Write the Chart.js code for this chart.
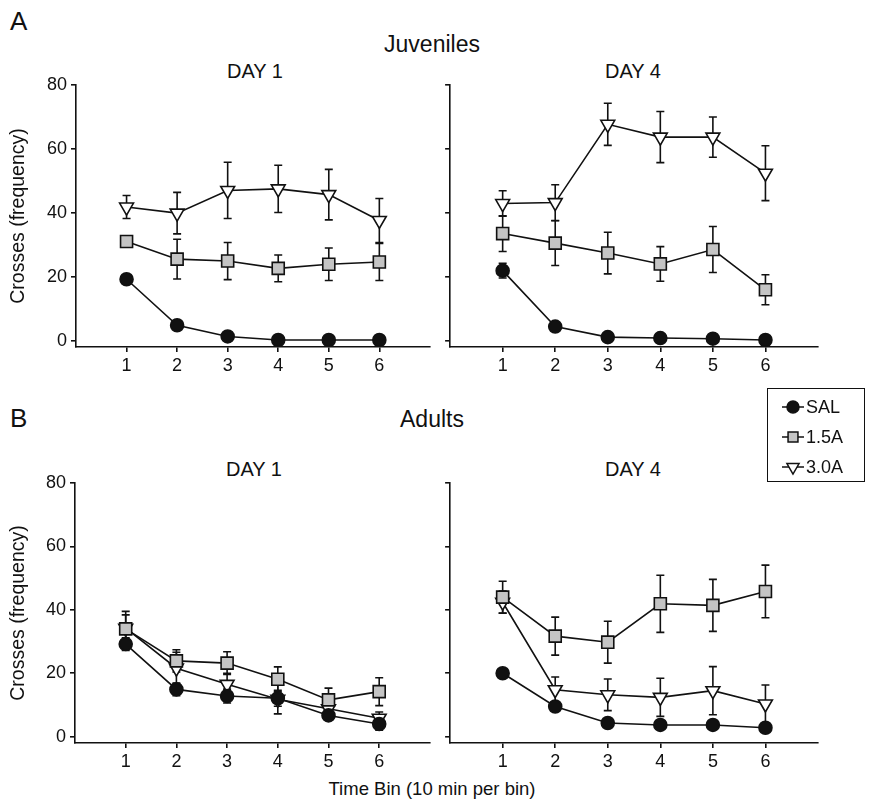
<!DOCTYPE html>
<html>
<head>
<meta charset="utf-8">
<script src="https://cdn.jsdelivr.net/npm/chart.js@4"></script>
<style>
    body { margin: 0; background: #fff; width: 869px; height: 806px; position: relative; overflow: hidden; }
    canvas { position: absolute; }
    .txt { position: absolute; font-family: "Liberation Sans", Arial, sans-serif; color: #111; line-height: 1; white-space: nowrap; }
    #legend { position: absolute; left: 767px; top: 388px; width: 98px; height: 94px; border: 1.5px solid #111; box-sizing: border-box; }
</style>
</head>
<body>
<div class="txt" style="left:10px; top:8px; font-size:26px;">A</div>
<div class="txt" style="left:0; width:864px; text-align:center; top:33px; font-size:23px;">Juveniles</div>
<div class="txt" style="left:155px; width:200px; text-align:center; top:61px; font-size:20px;">DAY 1</div>
<div class="txt" style="left:533px; width:200px; text-align:center; top:61px; font-size:20px;">DAY 4</div>

<div class="txt" style="left:10px; top:405px; font-size:26px;">B</div>
<div class="txt" style="left:0; width:864px; text-align:center; top:408px; font-size:23px;">Adults</div>
<div class="txt" style="left:154px; width:200px; text-align:center; top:459px; font-size:20px;">DAY 1</div>
<div class="txt" style="left:533px; width:200px; text-align:center; top:459px; font-size:20px;">DAY 4</div>
<div class="txt" style="left:0; width:864px; text-align:center; top:780px; font-size:18.5px;">Time Bin (10 min per bin)</div>

<canvas id="juvDay1" width="440" height="310" style="left:0; top:70px;"></canvas>
<canvas id="juvDay4" width="420" height="310" style="left:440px; top:70px;"></canvas>
<canvas id="adDay1" width="440" height="310" style="left:0; top:468px;"></canvas>
<canvas id="adDay4" width="420" height="310" style="left:440px; top:468px;"></canvas>

<div id="legend"></div>

<script>
const bins = [1, 2, 3, 4, 5, 6];
const yTicks = [0, 20, 40, 60, 80];
const groups = ['SAL', '1.5A', '3.0A'];

// Juveniles, day 1
const juvDay1Sal = [19.2, 4.8, 1.3, 0.2, 0.2, 0.2];
const juvDay1SalErr = [1.0, 0.8, 0.5, 0.2, 0.2, 0.2];
const juvDay1Low = [31.0, 25.5, 24.9, 22.6, 23.9, 24.6];
const juvDay1LowErr = [1.5, 6.2, 5.8, 4.2, 5.1, 5.8];
const juvDay1High = [41.8, 39.9, 47.0, 47.5, 45.7, 37.6];
const juvDay1HighErr = [3.6, 6.5, 8.8, 7.4, 7.9, 6.9];

// Juveniles, day 4
const juvDay4Sal = [21.9, 4.4, 1.1, 0.8, 0.6, 0.2];
const juvDay4SalErr = [2.3, 0.8, 0.5, 0.4, 0.3, 0.2];
const juvDay4Low = [33.5, 30.5, 27.4, 24.0, 28.5, 15.9];
const juvDay4LowErr = [5.6, 7.0, 6.5, 5.4, 7.2, 4.7];
const juvDay4High = [42.9, 43.2, 67.7, 63.7, 63.7, 52.4];
const juvDay4HighErr = [4.0, 5.6, 6.6, 8.0, 6.3, 8.6];

// Adults, day 1
const adDay1Sal = [29.2, 14.9, 12.8, 12.1, 6.7, 4.0];
const adDay1SalErr = [2.0, 2.0, 2.2, 2.5, 1.5, 2.0];
const adDay1Low = [34.0, 23.9, 23.2, 18.1, 11.6, 14.2];
const adDay1LowErr = [5.5, 3.5, 3.6, 3.9, 3.7, 4.4];
const adDay1High = [34.2, 21.6, 16.5, 11.8, 8.8, 5.8];
const adDay1HighErr = [4.2, 5.0, 3.5, 4.6, 2.0, 2.0];

// Adults, day 4
const adDay4Sal = [20.0, 9.5, 4.3, 3.7, 3.7, 2.8];
const adDay4SalErr = [1.0, 1.0, 0.8, 0.8, 0.8, 0.8];
const adDay4Low = [44.0, 31.7, 29.8, 41.9, 41.4, 45.8];
const adDay4LowErr = [5.0, 6.0, 6.6, 9.0, 8.2, 8.3];
const adDay4High = [42.4, 14.8, 13.2, 12.4, 14.5, 10.3];
const adDay4HighErr = [3.5, 4.0, 5.0, 6.0, 7.6, 6.0];

const FONT = '"Liberation Sans", Arial, sans-serif';
const INK = '#111';

const markers = {
    'SAL': {pointStyle: 'circle', pointRadius: 6.5, pointRotation: 0, pointBackgroundColor: INK},
    '1.5A': {pointStyle: 'rect', pointRadius: 8.5, pointRotation: 0, pointBackgroundColor: '#c4c4c4'},
    '3.0A': {pointStyle: 'triangle', pointRadius: 8, pointRotation: 180, pointBackgroundColor: '#fff'},
};

// draws the SEM whiskers under the lines and markers
const errorBars = {
    id: 'errorBars',
    beforeDatasetsDraw(chart) {
        const {ctx, scales: {x, y}} = chart;
        ctx.save();
        ctx.strokeStyle = INK;
        ctx.lineWidth = 1.6;
        chart.data.datasets.forEach(ds => {
            ds.data.forEach((pt, i) => {
                const err = ds.errors[i];
                const px = x.getPixelForValue(pt.x);
                const top = y.getPixelForValue(pt.y + err);
                const bot = y.getPixelForValue(pt.y - err);
                ctx.beginPath();
                ctx.moveTo(px, top);
                ctx.lineTo(px, bot);
                ctx.moveTo(px - 4, top);
                ctx.lineTo(px + 4, top);
                ctx.moveTo(px - 4, bot);
                ctx.lineTo(px + 4, bot);
                ctx.stroke();
            });
        });
        ctx.restore();
    }
};

function series(label, values, errors) {
    return Object.assign({
        label,
        data: values.map((v, i) => ({x: bins[i], y: v})),
        errors,
        borderColor: INK,
        borderWidth: 1.6,
        pointBorderColor: INK,
        pointBorderWidth: 1.6,
        tension: 0,
        fill: false,
    }, markers[label]);
}

function initPanel(id, sets, yWidth, showLabels, padding, xHeight) {
    const axisLine = {color: INK, width: 1.6};
    return new Chart(document.getElementById(id), {
        type: 'line',
        data: {
            datasets: [
                series('SAL', sets[0], sets[1]),
                series('1.5A', sets[2], sets[3]),
                series('3.0A', sets[4], sets[5]),
            ]
        },
        options: {
            responsive: false,
            animation: false,
            layout: {padding},
            plugins: {legend: {display: false}, tooltip: {enabled: false}},
            scales: {
                x: {
                    type: 'linear',
                    min: 0,
                    max: 7,
                    afterBuildTicks: scale => { scale.ticks = bins.map(value => ({value})); },
                    afterFit: scale => { scale.height = xHeight; },
                    border: axisLine,
                    grid: {drawOnChartArea: false, color: INK, lineWidth: 1.6, tickLength: 5},
                    ticks: {color: INK, font: {family: FONT, size: 18}, padding: 3},
                },
                y: {
                    min: -2,
                    max: 80,
                    afterBuildTicks: scale => { scale.ticks = yTicks.map(value => ({value})); },
                    afterFit: scale => { scale.width = yWidth; },
                    border: axisLine,
                    grid: {drawOnChartArea: false, color: INK, lineWidth: 1.6, tickLength: 5},
                    ticks: {display: showLabels, color: INK, font: {family: FONT, size: 18}, padding: 4},
                    title: {
                        display: showLabels,
                        text: 'Crosses (frequency)',
                        color: INK,
                        font: {family: FONT, size: 19.5},
                        padding: {top: 7, bottom: 0},
                    },
                }
            }
        },
        plugins: [errorBars]
    });
}

initPanel('juvDay1', [juvDay1Sal, juvDay1SalErr, juvDay1Low, juvDay1LowErr, juvDay1High, juvDay1HighErr],
    76, true, {top: 15, right: 5, left: 0, bottom: 0}, 33);
initPanel('juvDay4', [juvDay4Sal, juvDay4SalErr, juvDay4Low, juvDay4LowErr, juvDay4High, juvDay4HighErr],
    9, false, {top: 15, right: 42, left: 0, bottom: 0}, 33);
initPanel('adDay1', [adDay1Sal, adDay1SalErr, adDay1Low, adDay1LowErr, adDay1High, adDay1HighErr],
    75, true, {top: 15, right: 8, left: 0, bottom: 0}, 35);
initPanel('adDay4', [adDay4Sal, adDay4SalErr, adDay4Low, adDay4LowErr, adDay4High, adDay4HighErr],
    8, false, {top: 15, right: 42, left: 0, bottom: 0}, 35);

// legend: small canvas swatch + text per group, same marker styles as the charts
const legend = document.getElementById('legend');
groups.forEach((name, i) => {
    const m = markers[name];
    const sw = document.createElement('canvas');
    sw.width = 28;
    sw.height = 20;
    sw.style.left = '12px';
    sw.style.top = `${8 + i * 30}px`;
    legend.appendChild(sw);
    const ctx = sw.getContext('2d');
    ctx.strokeStyle = INK;
    ctx.lineWidth = 1.5;
    ctx.beginPath();
    ctx.moveTo(2, 10);
    ctx.lineTo(24, 10);
    ctx.stroke();
    ctx.fillStyle = m.pointBackgroundColor;
    const r = name === 'SAL' ? 6 : 7;
    Chart.helpers.drawPoint(ctx, {pointStyle: m.pointStyle, radius: r, rotation: m.pointRotation, borderWidth: 1.5}, 13, 10);

    const t = document.createElement('div');
    t.className = 'txt';
    t.style.left = '38px';
    t.style.top = `${9 + i * 30}px`;
    t.style.fontSize = '18px';
    t.textContent = name;
    legend.appendChild(t);
});
</script>
</body>
</html>
